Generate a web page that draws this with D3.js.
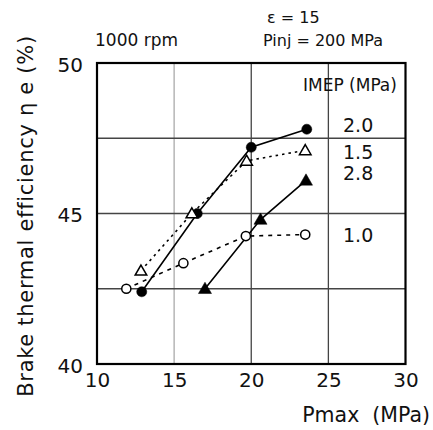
<!DOCTYPE html>
<html><head><meta charset="utf-8">
<script src="https://cdn.jsdelivr.net/npm/d3@7"></script>
<style>body{margin:0;background:#fff}svg{display:block}text{font-family:"DejaVu Sans",sans-serif;fill:#111}</style>
</head><body><svg id="c" width="433" height="430"></svg>
<script>
const imepLabels = ["2.0", "1.5", "2.8", "1.0"];
const pmax20 = [12.9, 16.5, 20.0, 23.6];
const eff20  = [42.4, 45.0, 47.2, 47.8];
const pmax15 = [12.85, 16.15, 19.7, 23.5];
const eff15  = [43.1, 45.0, 46.75, 47.1];
const pmax28 = [17.0, 20.6, 23.55];
const eff28  = [42.5, 44.8, 46.1];
const pmax10 = [11.9, 15.6, 19.65, 23.5];
const eff10  = [42.5, 43.35, 44.25, 44.3];
const xTicks = [10, 15, 20, 25, 30];
const yTicks = [40, 45, 50];
const yGrid = [42.5, 45, 47.5];

const svg = d3.select("#c");
const x = d3.scaleLinear().domain([10, 30]).range([97, 405.5]);
const y = d3.scaleLinear().domain([40, 50]).range([364, 63]);

// grid
svg.append("g").selectAll("line").data([15, 20, 25]).join("line")
  .attr("x1", d => x(d)).attr("x2", d => x(d)).attr("y1", y(40)).attr("y2", y(50))
  .attr("stroke", d => d === 15 ? "#aaa" : "#444").attr("stroke-width", 1.3);
svg.append("g").selectAll("line").data(yGrid).join("line")
  .attr("x1", x(10)).attr("x2", x(30)).attr("y1", d => y(d)).attr("y2", d => y(d))
  .attr("stroke", "#444").attr("stroke-width", 1.3);

// axes (ticks as labels only)
const xa = svg.append("g").attr("transform", `translate(0,${y(40)})`)
  .call(d3.axisBottom(x).tickValues(xTicks).tickSize(0).tickPadding(9).tickFormat(d3.format("d")));
xa.select(".domain").remove();
xa.selectAll("text").attr("font-size", 20).style("font-family", '"DejaVu Sans",sans-serif').attr("fill", "#111");
const ya = svg.append("g").attr("transform", `translate(${x(10)},0)`)
  .call(d3.axisLeft(y).tickValues(yTicks).tickSize(0).tickPadding(14).tickFormat(d3.format("d")));
ya.select(".domain").remove();
ya.selectAll("text").attr("font-size", 20).attr("dy", "0.42em").style("font-family", '"DejaVu Sans",sans-serif').attr("fill", "#111");

// frame
svg.append("rect").attr("x", x(10)).attr("y", y(50)).attr("width", x(30) - x(10)).attr("height", y(40) - y(50))
  .attr("fill", "none").attr("stroke", "#000").attr("stroke-width", 2.2);

const series = [
  {label: imepLabels[0], xs: pmax20, ys: eff20, shape: "circle", fill: true, dash: null, ly: 132},
  {label: imepLabels[1], xs: pmax15, ys: eff15, shape: "triangle", fill: false, dash: "2.5,4", ly: 159},
  {label: imepLabels[2], xs: pmax28, ys: eff28, shape: "triangle", fill: true, dash: null, ly: 180},
  {label: imepLabels[3], xs: pmax10, ys: eff10, shape: "circle", fill: false, dash: "4,5", ly: 242}
];
const line = d3.line().x(d => x(d[0])).y(d => y(d[1]));
series.forEach(s => {
  const pts = s.xs.map((v, i) => [v, s.ys[i]]);
  svg.append("path").attr("d", line(pts)).attr("fill", "none").attr("stroke", "#000")
    .attr("stroke-width", 1.6).attr("stroke-dasharray", s.dash);
  const sym = d3.symbol().type(s.shape === "circle" ? d3.symbolCircle : d3.symbolTriangle)
    .size(s.shape === "circle" ? (s.fill ? 80 : 66) : (s.fill ? 74 : 58));
  svg.append("g").selectAll("path").data(pts).join("path")
    .attr("transform", d => `translate(${x(d[0])},${y(d[1]) + (s.shape === "triangle" ? 1 : 0)})`)
    .attr("d", sym())
    .attr("fill", s.fill ? "#000" : "#fff").attr("stroke", "#000").attr("stroke-width", s.fill ? 0.5 : 1.5);
  svg.append("text").attr("x", 343).attr("y", s.ly).attr("font-size", 19).text(s.label);
});

svg.append("text").attr("x", 303).attr("y", 91).attr("font-size", 17).text("IMEP (MPa)");
svg.append("text").attr("x", 95).attr("y", 46).attr("font-size", 17).text("1000 rpm");
svg.append("text").attr("x", 267).attr("y", 23).attr("font-size", 16).text("ε = 15");
svg.append("text").attr("x", 263).attr("y", 46).attr("font-size", 16).text("Pinj = 200 MPa");
svg.append("text").attr("x", 430).attr("y", 422).attr("text-anchor", "end").attr("font-size", 20.5)
  .style("white-space", "pre").text("Pmax  (MPa)");
svg.append("text").attr("transform", "translate(33,216) rotate(-90)").attr("text-anchor", "middle")
  .attr("font-size", 21).attr("letter-spacing", 0.7).style("white-space", "pre").text("Brake thermal efficiency η e (%)");
</script></body></html>
